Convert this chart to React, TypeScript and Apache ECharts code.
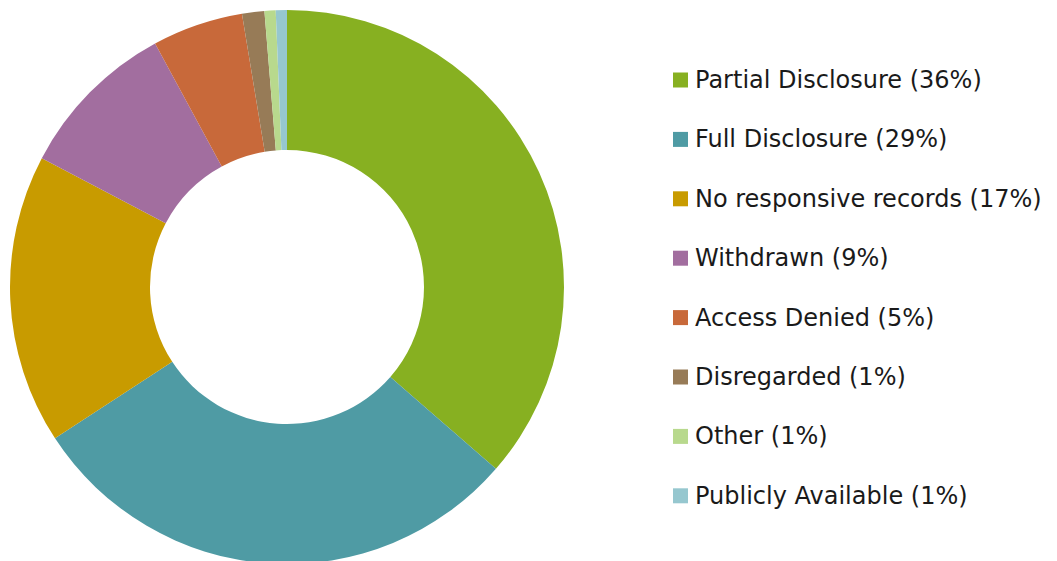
import React, { useEffect, useRef } from "react";
import * as echarts from "echarts";

const categories = [
  "Partial Disclosure",
  "Full Disclosure",
  "No responsive records",
  "Withdrawn",
  "Access Denied",
  "Disregarded",
  "Other",
  "Publicly Available",
];
const shares = [36.4, 29.4, 16.9, 9.4, 5.3, 1.3, 0.65, 0.65];
const legendPercents = [36, 29, 17, 9, 5, 1, 1, 1];
const colors = ["#87B021", "#4F9BA4", "#C89B00", "#A26E9F", "#C8693A", "#977B57", "#B8D98D", "#96C7CF"];

export default function App() {
  const ref = useRef<HTMLDivElement>(null);
  useEffect(() => {
    document.body.style.margin = "0";
    const chart = echarts.init(ref.current!, undefined, { renderer: "svg" });
    const labelMap: Record<string, string> = {};
    categories.forEach((c, i) => (labelMap[c] = `${c} (${legendPercents[i]}%)`));
    chart.setOption({
      animation: false,
      color: colors,
      legend: {
        orient: "vertical",
        left: 673,
        top: 68,
        padding: 0,
        icon: "rect",
        itemWidth: 15,
        itemHeight: 15,
        itemGap: 35.4,
        selectedMode: false,
        formatter: (n: string) => labelMap[n],
        textStyle: {
          fontFamily: "'DejaVu Sans', sans-serif",
          fontSize: 24,
          lineHeight: 24,
          color: "#1a1a1a",
          padding: [0, 0, 0, 2],
        },
      },
      series: [
        {
          type: "pie",
          center: [287, 287],
          radius: [137, 277],
          startAngle: 90,
          clockwise: true,
          label: { show: false },
          labelLine: { show: false },
          emphasis: { disabled: true },
          itemStyle: { borderWidth: 0 },
          data: categories.map((c, i) => ({ name: c, value: shares[i] })),
        },
      ],
    });
    return () => chart.dispose();
  }, []);
  return <div ref={ref} style={{ width: 1057, height: 561 }} />;
}
